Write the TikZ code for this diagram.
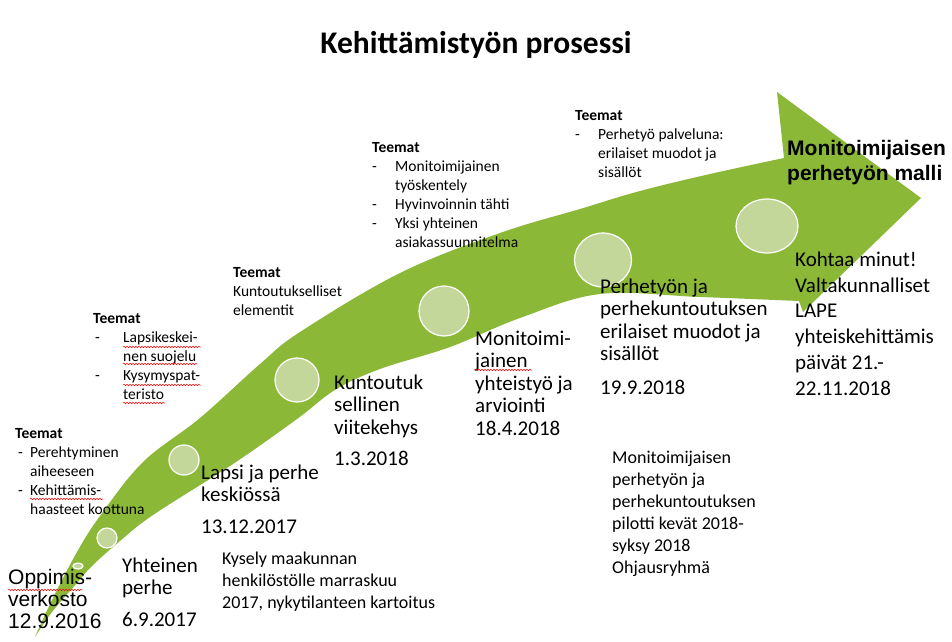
\documentclass[tikz,border=0pt]{standalone}
\usepackage{fontspec}
\setmainfont{Carlito}
\newfontfamily\arialfont{Liberation Sans}
\usepackage{tikz}
\usetikzlibrary{decorations.pathmorphing}
\definecolor{arrowgreen}{RGB}{140,184,56}
\definecolor{dotgreen}{RGB}{196,215,155}
\newcommand{\dsh}[1]{\makebox[#1][l]{-}}
\tikzset{
  swoosh/.style={fill=arrowgreen},
  dot/.style={fill=dotgreen,draw=white,line width=1.2pt},
  txt/.style={anchor=north west,inner sep=0pt,align=left},
  big/.style={txt,font=\fontsize{21}{22.5}\selectfont},
  small/.style={txt,font=\fontsize{15.5}{19}\selectfont},
  note/.style={txt,font=\fontsize{18}{22}\selectfont},
  spell/.style={red,line width=0.5pt,decorate,decoration={snake,amplitude=0.8pt,segment length=3pt}}
}

\begin{document}
\begin{tikzpicture}[x=1pt,y=-1pt]
    \useasboundingbox[fill=white] (0,0) rectangle (952,641);
    \fill[swoosh] plot[smooth,tension=0.6] coordinates {(35,637) (52,600) (77,552) (100,516) (143,462) (200,418) (260,364) (300,332) (400,273) (500,233) (580,209) (640,191) (710,174) (784,158)}
      -- (777,92) -- (921,198) -- (803,312)
      -- plot[smooth,tension=0.6] coordinates {(799,301) (700,297) (600,294) (520,318) (450,347) (380,369) (335,390) (297,419) (233,464) (153,515) (120,541) (93,565) (77,583) (52,612) (35,637)} -- cycle;
    \foreach \cx/\cy/\rx/\ry in {78/566/5/3, 107/538/10/10, 184/460/15/15, 297/380/22/22, 444/311/25/25, 603/260/28.5/27, 767/226/31/27}
      \draw[dot] (\cx,\cy) ellipse [x radius=\rx, y radius=\ry];

    \node[anchor=base,font=\bfseries\fontsize{31.5}{36}\selectfont] (title) at (476,53) {Kehittämistyön prosessi};

    \node[small] (teemaA) at (15,428) {\textbf{Teemat}\\\hspace*{3pt}\dsh{12pt}Perehtyminen\\\hspace*{15pt}aiheeseen\\\hspace*{3pt}\dsh{12pt}Kehittämis-\\\hspace*{15pt}haasteet koottuna};
    \node[small] (teemaB) at (93,313) {\textbf{Teemat}\\\hspace*{2pt}\dsh{28pt}Lapsikeskei-\\\hspace*{30pt}nen suojelu\\\hspace*{2pt}\dsh{28pt}Kysymyspat-\\\hspace*{30pt}teristo};
    \node[small] (teemaC) at (233,267) {\textbf{Teemat}\\Kuntoutukselliset\\elementit};
    \node[small] (teemaD) at (372,142) {\textbf{Teemat}\\\dsh{23pt}Monitoimijainen\\\hspace*{23pt}työskentely\\\dsh{23pt}Hyvinvoinnin tähti\\\dsh{23pt}Yksi yhteinen\\\hspace*{23pt}asiakassuunnitelma};
    \node[small] (teemaE) at (575,110) {\textbf{Teemat}\\\dsh{23pt}Perhetyö palveluna:\\\hspace*{23pt}erilaiset muodot ja\\\hspace*{23pt}sisällöt};

    \node[txt,font=\arialfont\fontsize{21}{22}\selectfont] (oppimis) at (8,569) {Oppimis-\\verkosto\\12.9.2016};
    \node[big] (yhteinen) at (122,557.5) {Yhteinen\\perhe\\[9pt]6.9.2017};
    \node[big] (lapsi) at (201,464.5) {Lapsi ja perhe\\keskiössä\\[9pt]13.12.2017};
    \node[note] (kysely) at (222,551.6) {Kysely maakunnan\\henkilöstölle marraskuu\\2017, nykytilanteen kartoitus};
    \node[big] (kuntoutus) at (334,374.5) {Kuntoutuk\\sellinen\\viitekehys\\[9pt]1.3.2018};
    \node[big] (yhteistyo) at (475,330.5) {Monitoimi-\\jainen\\yhteistyö ja\\arviointi\\18.4.2018};
    \node[big] (muodot) at (600,278.5) {Perhetyön ja\\perhekuntoutuksen\\erilaiset muodot ja\\sisällöt\\[11pt]19.9.2018};
    \node[note] (pilotti) at (612,450.6) {Monitoimijaisen\\perhetyön ja\\perhekuntoutuksen\\pilotti kevät 2018-\\syksy 2018\\Ohjausryhmä};
    \node[txt,font=\arialfont\bfseries\fontsize{21}{25.5}\selectfont] (malli) at (787,139.8) {Monitoimijaisen\\perhetyön malli};
    \node[txt,font=\fontsize{21}{25.8}\selectfont] (kohtaa) at (795,251.5) {Kohtaa minut!\\Valtakunnalliset\\LAPE\\yhteiskehittämis\\päivät 21.-\\22.11.2018};

    \draw[spell] (8,590) -- (82,590);
    \draw[spell] (30,499) -- (103,499);
    \draw[spell] (123,347) -- (201,347);
    \draw[spell] (123,364) -- (197,364);
    \draw[spell] (123,385) -- (201,385);
    \draw[spell] (123,403) -- (165,403);
    \draw[spell] (475,370) -- (532,370);
\end{tikzpicture}
\end{document}
